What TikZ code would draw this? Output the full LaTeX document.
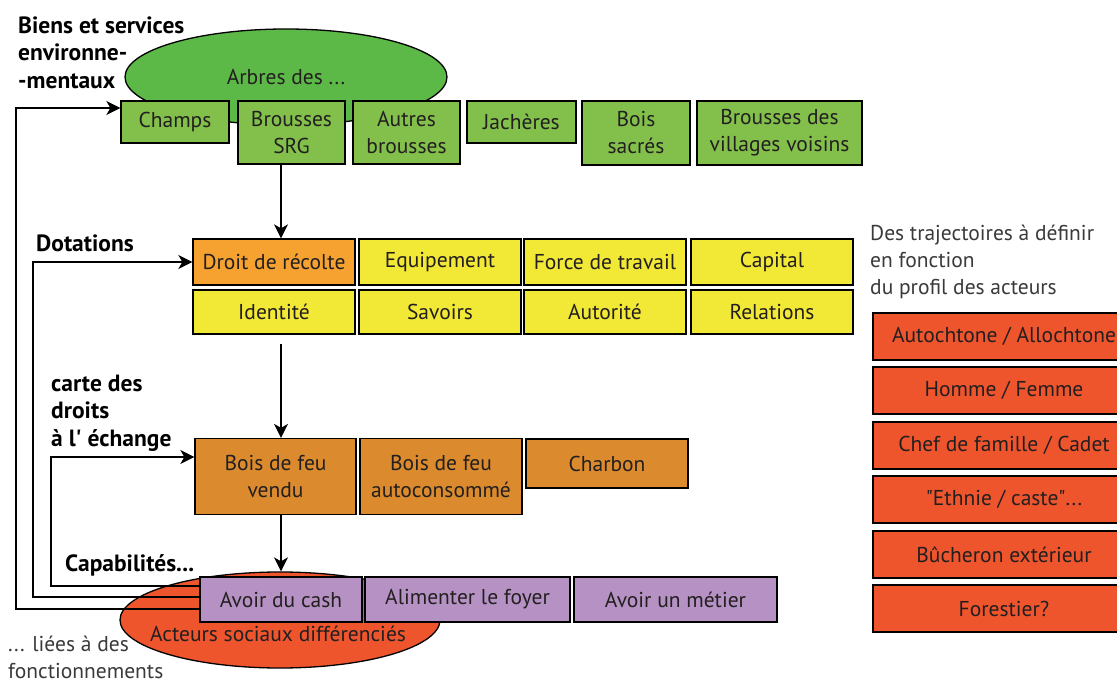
\documentclass[tikz,border=0pt]{standalone}
\usepackage{fontspec}
\setmainfont{PT Sans}
\newfontfamily\rawfont{PT Sans}
\usetikzlibrary{arrows.meta,shapes.geometric}
\definecolor{ellgreen}{HTML}{5DB947}
\definecolor{boxgreen}{HTML}{82C04B}
\definecolor{droitorange}{HTML}{F6A230}
\definecolor{dotyellow}{HTML}{F2E836}
\definecolor{boisorange}{HTML}{DB8B2D}
\definecolor{capapurple}{HTML}{B592C3}
\definecolor{actred}{HTML}{EF552D}
\definecolor{txt}{HTML}{231F20}
\definecolor{note}{HTML}{3A3A3A}
\begin{document}
\begin{tikzpicture}[x=1pt,y=-1pt,
  every node/.style={font=\fontsize{21.5}{27}\selectfont, text=txt, inner sep=0pt},
  cbox/.style={draw=black, line width=1.3pt, rectangle, align=center},
  ell/.style={draw=black, line width=1.3pt, ellipse},
  lbl/.style={font=\fontsize{23.5}{27.5}\selectfont\bfseries, text=black, align=left, anchor=west},
  notetxt/.style={font=\fontsize{21.5}{27}\selectfont, text=note, align=left, anchor=west},
  arr/.style={line width=1.3pt, -{Stealth[length=14pt,width=14pt,inset=4pt]}}
]
\useasboundingbox (0,0) rectangle (1117,682);
\fill[white] (0,0) rectangle (1117,682);

% labels
\node[lbl] (lbiens) at (18,52.5) {Biens et services\\environne-\\-mentaux};
\node[lbl] (ldot) at (36,243) {Dotations};
\node[lbl] (lcarte) at (51,413) {carte des\\droits\\à l{\rawfont\bfseries'} échange};
\node[lbl] (lcapa) at (65,565) {Capabilités...};
\node[notetxt] (lliees) at (8,657) {... liées à des\\fonctionnements};
\node[notetxt] (ltraj) at (870,262) {Des trajectoires à définir\\en fonction\\du profil des acteurs};

% top ellipse
\node[ell, fill=ellgreen, minimum width=322pt, minimum height=96pt] (arbres) at (286,77) {Arbres des ...};

% green boxes
\node[cbox, fill=boxgreen, minimum width=108pt, minimum height=42pt] (champs) at (175,122) {Champs};
\node[cbox, fill=boxgreen, minimum width=107pt, minimum height=63pt] (srg) at (291.5,132.5) {Brousses\\SRG};
\node[cbox, fill=boxgreen, minimum width=107pt, minimum height=63pt] (autres) at (406.5,132.5) {Autres\\brousses};
\node[cbox, fill=boxgreen, minimum width=109pt, minimum height=42pt] (jach) at (521.5,122) {Jachères};
\node[cbox, fill=boxgreen, minimum width=108pt, minimum height=64pt] (sacres) at (636,133) {Bois\\sacrés};
\node[cbox, fill=boxgreen, minimum width=165pt, minimum height=64pt] (voisins) at (779.5,133) {Brousses des\\villages voisins};

% dotations
\node[cbox, fill=droitorange, minimum width=162pt, minimum height=46pt] (droit) at (274,262) {Droit de récolte};
\node[cbox, fill=dotyellow, minimum width=162pt, minimum height=46pt] (equip) at (440,262) {Equipement};
\node[cbox, fill=dotyellow, minimum width=162pt, minimum height=46pt] (force) at (605,262) {Force de travail};
\node[cbox, fill=dotyellow, minimum width=162pt, minimum height=46pt] (capital) at (772,262) {Capital};
\node[cbox, fill=dotyellow, minimum width=162pt, minimum height=44pt] (ident) at (274,312) {Identité};
\node[cbox, fill=dotyellow, minimum width=162pt, minimum height=44pt] (savoirs) at (440,312) {Savoirs};
\node[cbox, fill=dotyellow, minimum width=162pt, minimum height=44pt] (autor) at (605,312) {Autorité};
\node[cbox, fill=dotyellow, minimum width=162pt, minimum height=44pt] (relat) at (772,312) {Relations};

% droits a l'echange
\node[cbox, fill=boisorange, minimum width=161pt, minimum height=76pt] (vendu) at (275.5,476.5) {Bois de feu\\vendu};
\node[cbox, fill=boisorange, minimum width=162pt, minimum height=76pt] (autocons) at (441,476.5) {Bois de feu\\autoconsommé};
\node[cbox, fill=boisorange, minimum width=162pt, minimum height=49pt] (charbon) at (607,463.5) {Charbon};

% acteurs
\node[ell, fill=actred, minimum width=320pt, minimum height=96pt] (acteurs) at (280,620) {};
\node (acttxt) at (278,634) {Acteurs sociaux différenciés};

\node[cbox, fill=capapurple, minimum width=162pt, minimum height=45pt] (cash) at (281,599.5) {Avoir du cash};
\node[cbox, fill=capapurple, minimum width=205pt, minimum height=45pt] (foyer) at (467.5,599.5) {Alimenter le foyer};
\node[cbox, fill=capapurple, minimum width=203pt, minimum height=45pt] (metier) at (675.5,599.5) {Avoir un métier};

% right column
\node[cbox, fill=actred, minimum width=262pt, minimum height=47pt] (p1) at (1004,336.5) {Autochtone / Allochtone};
\node[cbox, fill=actred, minimum width=262pt, minimum height=47pt] (p2) at (1004,390.5) {Homme / Femme};
\node[cbox, fill=actred, minimum width=262pt, minimum height=47pt] (p3) at (1004,445.5) {Chef de famille / Cadet};
\node[cbox, fill=actred, minimum width=262pt, minimum height=47pt] (p4) at (1004,499.5) {{\rawfont"}Ethnie / caste{\rawfont"}...};
\node[cbox, fill=actred, minimum width=262pt, minimum height=47pt] (p5) at (1004,554.5) {Bûcheron extérieur};
\node[cbox, fill=actred, minimum width=262pt, minimum height=47pt] (p6) at (1004,608.5) {Forestier?};

% vertical arrows
\coordinate (spine) at (281,0);
\draw[arr] (srg.south -| spine) -- (droit.north -| spine);
\coordinate (idbot) at ([yshift=-9pt]ident.south);
\draw[arr] (idbot -| spine) -- (vendu.north -| spine);
\draw[arr] (vendu.south -| spine) -- (acteurs.north -| spine);

% feedback loops
\coordinate (r1) at (16,0);
\coordinate (r2) at (33,0);
\coordinate (r3) at (51,0);
\coordinate (a1) at ([yshift=-9.5pt]cash.west);
\coordinate (b1) at ([yshift=14pt]champs.west);
\coordinate (a2) at ([yshift=2.5pt]cash.west);
\coordinate (b2) at (droit.west);
\coordinate (a3) at ([yshift=13.5pt]cash.west);
\coordinate (b3) at ([yshift=19.5pt]vendu.west);
\draw[arr] (a1) -- (a1 -| r1) -- (b1 -| r1) -- (b1);
\draw[arr] (a2) -- (a2 -| r2) -- (b2 -| r2) -- (b2);
\draw[arr] (a3) -- (a3 -| r3) -- (b3 -| r3) -- (b3);
\end{tikzpicture}
\end{document}
